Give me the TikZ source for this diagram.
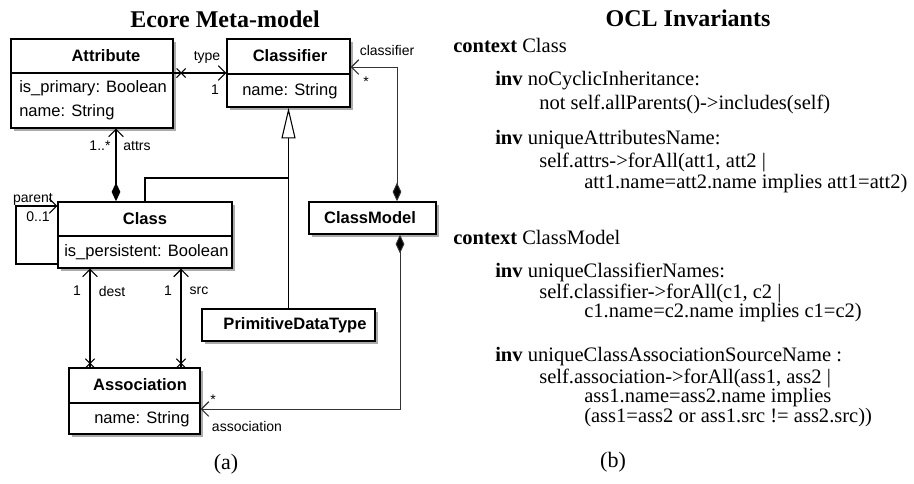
\documentclass[tikz,border=0pt]{standalone}
\usepackage{fontspec}
\setmainfont{Liberation Serif}
\setsansfont{Liberation Sans}
\usetikzlibrary{arrows.meta,shapes.misc,shadows,fit}

\tikzset{
  umlbox/.style={draw, line width=1.1pt, fill=white, inner sep=0pt,
    drop shadow={shadow xshift=2.2pt, shadow yshift=-2.2pt, fill=black!55, opacity=.6}},
  umlsep/.style={line width=1.1pt},
  hdr/.style={font=\sffamily\bfseries\fontsize{12.4}{14}\selectfont, inner sep=0pt},
  attrtext/.style={font=\sffamily\fontsize{12.4}{14}\selectfont, anchor=west, inner sep=0pt},
  lbl/.style={font=\sffamily\fontsize{10.5}{12}\selectfont, inner sep=0pt},
  opentip/.tip={Straight Barb[length=5.5pt,width=11pt,line width=0.8pt]},
  assoc/.style={line width=1.3pt, -opentip},
  comp/.style={line width=1.3pt, {Diamond[length=14pt,width=6.5pt]}-opentip},
  thincomp/.style={line width=0.7pt, draw=black!80, {Diamond[length=14pt,width=6.5pt,fill=black]}-opentip},
  gen/.style={line width=1.3pt, -{Triangle[open,length=23pt,width=10.5pt,fill=white,line width=0.8pt]}},
  crossmark/.style={draw, cross out, line width=0.8pt, minimum size=6pt, inner sep=0pt},
  title/.style={font=\bfseries\fontsize{18}{20}\selectfont, inner sep=0pt},
  ocl/.style={font=\fontsize{15.4}{18}\selectfont, anchor=west, inner sep=0pt},
  caption/.style={font=\fontsize{16.5}{18}\selectfont, inner sep=0pt},
}

\begin{document}
\begin{tikzpicture}[x=0.75pt, y=-0.75pt]
  \useasboundingbox (0,0) rectangle (914,483);

  % titles
  \node[title] (ttla) at (225,19) {Ecore Meta-model};
  \node[title] (ttlb) at (688,18) {OCL Invariants};

  % classes
  \node[umlbox, fit={(11,39) (173,128)}] (attr) {};
  \draw[umlsep] (attr.west |- 0,73) -- (attr.east |- 0,73);
  \node[hdr] (attrname) at (106,56) {Attribute};
  \node[attrtext] (attr1) at (19,88) {is\_primary: Boolean};
  \node[attrtext] (attr2) at (19,112) {name: String};

  \node[umlbox, fit={(227,39) (350,107)}] (clsf) {};
  \draw[umlsep] (clsf.west |- 0,74) -- (clsf.east |- 0,74);
  \node[hdr] (clsfname) at (290,56) {Classifier};
  \node[attrtext] (clsf1) at (242,91) {name: String};

  \node[umlbox, fit={(58,202) (232,268)}] (cls) {};
  \draw[umlsep] (cls.west |- 0,236) -- (cls.east |- 0,236);
  \node[hdr] (clsname) at (145,219) {Class};
  \node[attrtext] (cls1) at (64,252) {is\_persistent: Boolean};

  \node[umlbox, fit={(69,368) (200,434)}] (asc) {};
  \draw[umlsep] (asc.west |- 0,403) -- (asc.east |- 0,403);
  \node[hdr] (ascname) at (140,385) {Association};
  \node[attrtext] (asc1) at (94,419) {name: String};

  \node[umlbox, fit={(202,309) (375,341)}] (prim) {};
  \node[hdr] (primname) at (295,325) {PrimitiveDataType};

  \node[umlbox, fit={(309,202) (436,234)}] (cm) {};
  \node[hdr] (cmname) at (370,218) {ClassModel};

  % connectors
  \draw[assoc] (clsf.west -| attr.east) node[crossmark, xshift=5.5pt] {} -- (clsf.west);
  \node[lbl] (typelbl) at (207,57) {type};
  \node[lbl] (typemul) at (215,90) {1};

  \draw[comp] (cls.north -| 116,0) -- (attr.south -| 116,0);
  \node[lbl] (attrsmul) at (100,146) {1..*};
  \node[lbl] (attrslbl) at (137,146) {attrs};

  \draw[line width=0.8pt, -opentip] (cls.west |- 0,264) -| (16,206) -- (cls.west |- 0,206);
  \node[lbl] (parentlbl) at (33,199) {parent};
  \node[lbl] (parentmul) at (38,217) {0..1};

  \draw[assoc] (asc.north -| 90,0) node[crossmark, yshift=3pt] {} -- (cls.south -| 90,0);
  \node[lbl] (destmul) at (77,291) {1};
  \node[lbl] (destlbl) at (112,291) {dest};

  \draw[assoc] (asc.north -| 181,0) node[crossmark, yshift=3pt] {} -- (cls.south -| 181,0);
  \node[lbl] (srcmul) at (168,291) {1};
  \node[lbl] (srclbl) at (199,291) {src};

  \draw[gen] (prim.north -| clsf.south) -- (clsf.south);
  \draw[line width=0.8pt] (cls.north) |- (clsf.south |- 0,178);

  \draw[thincomp] (cm.north -| 397,0) |- (clsf.east |- 0,67);
  \node[lbl] (clsflbl) at (387,50) {classifier};
  \node[lbl] (clsfmul) at (366,82) {*};

  \draw[thincomp] (cm.south -| 400,0) |- (asc.east |- 0,409);
  \node[lbl] (ascmul) at (213,400) {*};
  \node[lbl] (asclbl) at (247,426) {association};

  % OCL invariants
  \node[ocl] (ctx1) at (453,45) {\textbf{context} Class};
  \node[ocl] (inv1) at (495,81) {\textbf{inv} noCyclicInheritance:};
  \node[ocl] (body1) at (539,104) {not self.allParents()->includes(self)};
  \node[ocl] (inv2) at (495,140) {\textbf{inv} uniqueAttributesName:};
  \node[ocl] (body2a) at (539,162) {self.attrs->forAll(att1, att2 |};
  \node[ocl] (body2b) at (584,184) {att1.name=att2.name implies att1=att2)};
  \node[ocl] (ctx2) at (453,237) {\textbf{context} ClassModel};
  \node[ocl] (inv3) at (495,272) {\textbf{inv} uniqueClassifierNames:};
  \node[ocl] (body3a) at (539,293) {self.classifier->forAll(c1, c2 |};
  \node[ocl] (body3b) at (584,313) {c1.name=c2.name implies c1=c2)};
  \node[ocl] (inv4) at (495,357) {\textbf{inv} uniqueClassAssociationSourceName :};
  \node[ocl] (body4a) at (539,378) {self.association->forAll(ass1, ass2 |};
  \node[ocl] (body4b) at (584,398) {ass1.name=ass2.name implies};
  \node[ocl] (body4c) at (584,418) {(ass1=ass2 or ass1.src != ass2.src))};

  % captions
  \node[caption] (capa) at (226,464) {(a)};
  \node[caption] (capb) at (613,462) {(b)};
\end{tikzpicture}
\end{document}
